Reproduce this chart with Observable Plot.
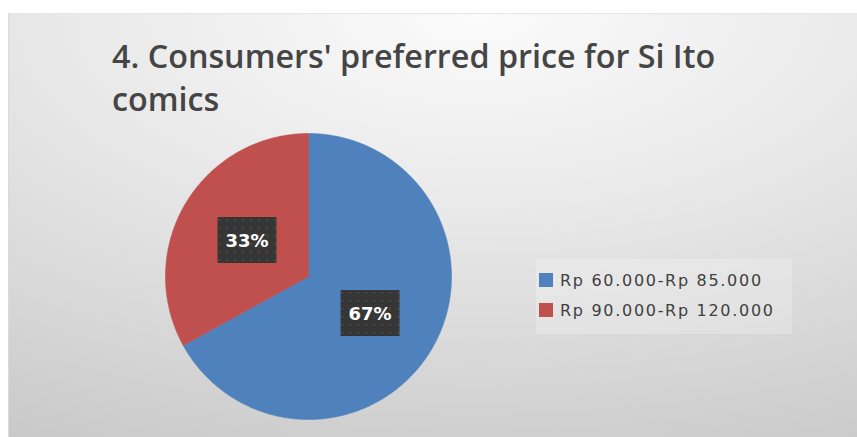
<!DOCTYPE html>
<html><head><meta charset="utf-8">
<script src="https://cdn.jsdelivr.net/npm/d3@7"></script>
<script src="https://cdn.jsdelivr.net/npm/@observablehq/plot@0.6"></script>
<style>
html,body{margin:0;padding:0;background:#fff;}
body{width:857px;height:437px;overflow:hidden;position:relative;font-family:"DejaVu Sans",sans-serif;}
#frame{position:absolute;left:8px;top:13px;width:849px;height:424px;
  background:radial-gradient(ellipse 120% 115% at 55% 0%, #fbfbfb 0%, #e9e9e9 40%, #c8c8c8 100%);
  border-left:1px solid #dadada;border-top:1px solid #e6e6e6;box-sizing:border-box;}
#title{position:absolute;left:103px;top:20px;font-family:"Open Sans",sans-serif;
  font-size:32.3px;font-weight:600;line-height:43px;color:#454545;white-space:nowrap;}
#pie{position:absolute;left:154px;top:117px;}
#legend{position:absolute;left:527px;top:245px;width:256px;height:75px;background:rgba(255,255,255,0.22);box-sizing:border-box;padding:6px 0 0 3px;}
#legend div[class$="-swatch"]{height:30px;padding:0;display:flex;align-items:center;}
#legend svg{margin-right:7px;}
</style>
</head><body>
<div id="frame">
  <div id="title">4. Consumers' preferred price for Si Ito<br>comics</div>
  <div id="pie"></div>
  <div id="legend"></div>
</div>
<script>
const categories = ["Rp 60.000-Rp 85.000", "Rp 90.000-Rp 120.000"];
const shares = [67, 33];
const labels = ["67%", "33%"];
const colors = ["#4f81bd", "#c0504d"];

const rows = categories.map((c, i) => ({cat: c, value: shares[i], label: labels[i]}));
const arcs = d3.pie().sort(null).value(d => d.value)(rows);

// polygon vertices for each slice (angle 0 at 12 o'clock, clockwise)
const pts = [];
arcs.forEach(a => {
  const cat = a.data.cat;
  pts.push({cat, x: 0, y: 0});
  const n = Math.max(2, Math.ceil((a.endAngle - a.startAngle) / (Math.PI / 360)));
  for (let k = 0; k <= n; k++) {
    const t = a.startAngle + (a.endAngle - a.startAngle) * k / n;
    pts.push({cat, x: Math.sin(t), y: Math.cos(t)});
  }
  pts.push({cat, x: 0, y: 0});
});
const lab = arcs.map(a => {
  const m = (a.startAngle + a.endAngle) / 2;
  return {cat: a.data.cat, label: a.data.label, x: 0.5 * Math.sin(m), y: 0.5 * Math.cos(m)};
});

const boxSymbol = {draw(ctx) { ctx.rect(-29.5, -23, 59, 46); }};

const pie = Plot.plot({
  width: 290, height: 290, margin: 2,
  x: {domain: [-1, 1], axis: null},
  y: {domain: [-1, 1], axis: null},
  color: {domain: categories, range: colors},
  style: {background: "transparent", overflow: "visible"},
  marks: [
    Plot.line(pts, {x: "x", y: "y", z: "cat", fill: "cat", stroke: "cat", strokeWidth: 0.6, curve: "linear"}),
    Plot.dot(lab, {x: "x", y: "y", symbol: boxSymbol, fill: "url(#dots)", stroke: "none", r: 5}),
    Plot.text(lab, {x: "x", y: "y", text: "label", fill: "white", fontSize: 18, fontWeight: "bold", fontFamily: "DejaVu Sans", dy: 1})
  ]
});
const defs = d3.select(pie).insert("defs", ":first-child");
const pat = defs.append("pattern").attr("id", "dots").attr("width", 8).attr("height", 8).attr("patternUnits", "userSpaceOnUse");
pat.append("rect").attr("width", 8).attr("height", 8).attr("fill", "#363636");
pat.append("circle").attr("cx", 4).attr("cy", 4).attr("r", 0.8).attr("fill", "#5c5c5c");
document.getElementById("pie").appendChild(pie);

const leg = Plot.legend({
  color: {domain: categories, range: colors},
  legend: "swatches", columns: 1, swatchSize: 14,
  style: {fontFamily: "DejaVu Sans", fontSize: "16px", color: "#404040", letterSpacing: "1.7px", background: "transparent"}
});
document.getElementById("legend").appendChild(leg);
</script>
</body></html>
